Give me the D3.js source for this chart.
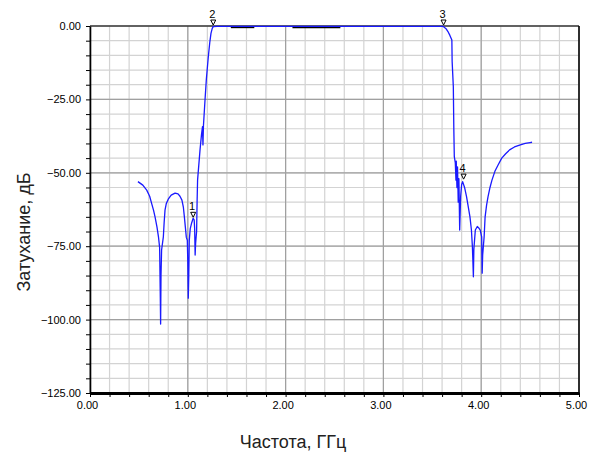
<!DOCTYPE html>
<html>
<head>
<meta charset="utf-8">
<script src="https://cdn.jsdelivr.net/npm/d3@7"></script>
<style>
  html, body { margin: 0; padding: 0; background: #fff; }
  svg { display: block; font-family: "Liberation Sans", Arial, sans-serif; }
</style>
</head>
<body>
<svg id="chart" width="589" height="453"></svg>
<script>
// ---- data ----
const freqGHz = [
  0.49, 0.54, 0.58, 0.61, 0.63, 0.65, 0.665, 0.685, 0.70, 0.712, 0.718, 0.722, 0.726, 0.732,
  0.75, 0.758, 0.767, 0.78, 0.80, 0.83, 0.87, 0.90, 0.92, 0.94, 0.955, 0.965, 0.975, 0.985,
  0.995, 1.000, 1.005, 1.01, 1.015, 1.025, 1.04, 1.055, 1.065, 1.07, 1.075, 1.08, 1.09, 1.095,
  1.10, 1.125, 1.14, 1.15, 1.155, 1.16, 1.176, 1.19, 1.21, 1.225, 1.237, 1.25, 1.26, 1.30,
  1.60, 2.00, 2.50, 3.00, 3.40, 3.60, 3.613, 3.64, 3.66, 3.68, 3.70, 3.703, 3.715, 3.72,
  3.725, 3.735, 3.742, 3.745, 3.752, 3.758, 3.765, 3.772, 3.78, 3.79, 3.80, 3.81, 3.83, 3.85,
  3.87, 3.885, 3.90, 3.91, 3.915, 3.92, 3.925, 3.94, 3.96, 3.975, 3.99, 4.005, 4.01, 4.015,
  4.03, 4.04, 4.055, 4.07, 4.09, 4.11, 4.14, 4.17, 4.21, 4.25, 4.29, 4.34, 4.40, 4.45, 4.50, 4.52
];
const attenDB = [
  -53.0, -54.2, -55.9, -58.0, -60.4, -62.8, -65.0, -68.5, -71.8, -75.5, -90.0, -101.5, -85.0, -76.3,
  -71.8, -67.0, -62.7, -60.5, -59.0, -57.6, -56.9, -57.2, -58.0, -59.3, -61.8, -65.0, -68.5, -72.0,
  -73.0, -80.0, -92.7, -85.0, -73.0, -69.0, -67.0, -65.5, -66.0, -69.0, -78.0, -74.0, -70.0, -60.0,
  -52.5, -42.2, -37.0, -34.3, -40.5, -34.0, -25.2, -18.0, -10.4, -5.5, -2.5, -0.8, -0.2, -0.1,
  -0.1, -0.1, -0.1, -0.1, -0.1, -0.1, -0.2, -0.9, -1.9, -3.2, -4.8, -12.2, -20.7, -35.0,
  -44.5, -46.5, -52.5, -46.0, -55.0, -48.0, -60.0, -52.0, -69.5, -58.0, -54.0, -53.0, -55.0, -58.1,
  -62.0, -65.0, -69.5, -75.2, -80.0, -85.4, -76.0, -69.5, -68.3, -68.8, -69.5, -71.8, -84.2, -78.0,
  -71.8, -65.0, -61.0, -58.1, -55.0, -52.5, -49.5, -47.5, -45.0, -43.5, -42.2, -41.2, -40.5, -40.0, -39.7, -39.6
];
// dark passband segments (second trace) : [startGHz, endGHz, dB]
const darkSegStart = [1.44, 2.07];
const darkSegEnd   = [1.68, 2.56];
const darkSegDB    = [-0.4, -0.4];
// markers
const markerId   = ["1", "2", "3", "4"];
const markerFreq = [1.055, 1.26, 3.615, 3.82];
const markerDB   = [-65.5, 0, 0, -52.5];
// ticks
const xTicks = [0, 1, 2, 3, 4, 5];
const yTicks = [0, -25, -50, -75, -100, -125];
const xLabel = "Частота, ГГц";
const yLabel = "Затухание, дБ";

// ---- layout ----
const svg = d3.select("#chart");
const L = 90, R = 579, T = 26, B = 393;
const x = d3.scaleLinear().domain([0, 5]).range([L, R]);
const y = d3.scaleLinear().domain([-125, 0]).range([B, T]);

const minorX = d3.range(0, 5.0001, 0.2);
const minorY = d3.range(-125, 0.0001, 5);

// minor grid
const g = svg.append("g");
g.selectAll(".mx").data(minorX).join("line")
  .attr("x1", d => x(d)).attr("x2", d => x(d)).attr("y1", T).attr("y2", B)
  .attr("stroke", "#d3d3d3").attr("stroke-width", 1.2);
g.selectAll(".my").data(minorY).join("line")
  .attr("x1", L).attr("x2", R).attr("y1", d => y(d)).attr("y2", d => y(d))
  .attr("stroke", "#d3d3d3").attr("stroke-width", 1.2);
// major grid
g.selectAll(".Mx").data(xTicks).join("line")
  .attr("x1", d => x(d)).attr("x2", d => x(d)).attr("y1", T).attr("y2", B)
  .attr("stroke", "#a0a0a0").attr("stroke-width", 1.2);
g.selectAll(".My").data(yTicks).join("line")
  .attr("x1", L).attr("x2", R).attr("y1", d => y(d)).attr("y2", d => y(d))
  .attr("stroke", "#a0a0a0").attr("stroke-width", 1.2);

// frame
svg.append("line").attr("x1", L).attr("x2", R).attr("y1", T).attr("y2", T).attr("stroke", "#000").attr("stroke-width", 1.2);
svg.append("line").attr("x1", R).attr("x2", R).attr("y1", T).attr("y2", B).attr("stroke", "#000").attr("stroke-width", 1.5);

// axes
const fmt = d3.format(".2f");
const yAxis = d3.axisLeft(y).tickValues(minorY).tickSize(4).tickSizeOuter(0)
  .tickFormat(d => (Math.abs(d % 25) < 1e-6 ? fmt(d) : ""));
const ya = svg.append("g").attr("transform", `translate(${L},0)`).call(yAxis);
ya.select(".domain").attr("stroke", "#000").attr("stroke-width", 1.6);
ya.selectAll("text").attr("font-size", 11).attr("fill", "#000").attr("dx", "-2").attr("font-family", "Liberation Sans, Arial, sans-serif");

const xAxis = d3.axisBottom(x).tickValues(minorX).tickSize(4).tickSizeOuter(0)
  .tickFormat(d => (Math.abs(d - Math.round(d)) < 1e-6 ? fmt(d) : ""));
const xa = svg.append("g").attr("transform", `translate(0,${B})`).call(xAxis);
xa.select(".domain").attr("stroke", "#000").attr("stroke-width", 3);
xa.selectAll("text").attr("font-size", 11).attr("fill", "#000").attr("dx", "-3").attr("dy", "0.8em")
  .attr("font-family", "Liberation Sans, Arial, sans-serif");

// dark passband segments
svg.selectAll(".dseg").data(darkSegStart).join("line")
  .attr("x1", (d, i) => x(d)).attr("x2", (d, i) => x(darkSegEnd[i]))
  .attr("y1", (d, i) => y(darkSegDB[i])).attr("y2", (d, i) => y(darkSegDB[i]))
  .attr("stroke", "#000").attr("stroke-width", 2);

// main trace
const pts = freqGHz.map((f, i) => [f, attenDB[i]]);
const line = d3.line().x(d => x(d[0])).y(d => y(d[1]));
svg.append("path").datum(pts).attr("d", line)
  .attr("fill", "none").attr("stroke", "#1a1aff").attr("stroke-width", 1.3)
  .attr("stroke-linejoin", "round");

// markers
markerId.forEach((id, i) => {
  const px = x(markerFreq[i]), py = y(markerDB[i]);
  svg.append("path")
    .attr("d", `M${px - 2.5},${py - 6}L${px + 2.5},${py - 6}L${px},${py - 1}Z`)
    .attr("fill", "none").attr("stroke", "#000").attr("stroke-width", 1);
  svg.append("text").attr("x", px - 1).attr("y", py - 8)
    .attr("text-anchor", "middle").attr("font-size", 11).attr("fill", "#000").text(id);
});

// axis titles
svg.append("text").attr("x", 293).attr("y", 448).attr("text-anchor", "middle")
  .attr("font-size", 18).attr("fill", "#222").text(xLabel);
svg.append("text").attr("transform", "translate(30,232) rotate(-90)").attr("text-anchor", "middle")
  .attr("font-size", 18).attr("fill", "#222").text(yLabel);
</script>
</body>
</html>
